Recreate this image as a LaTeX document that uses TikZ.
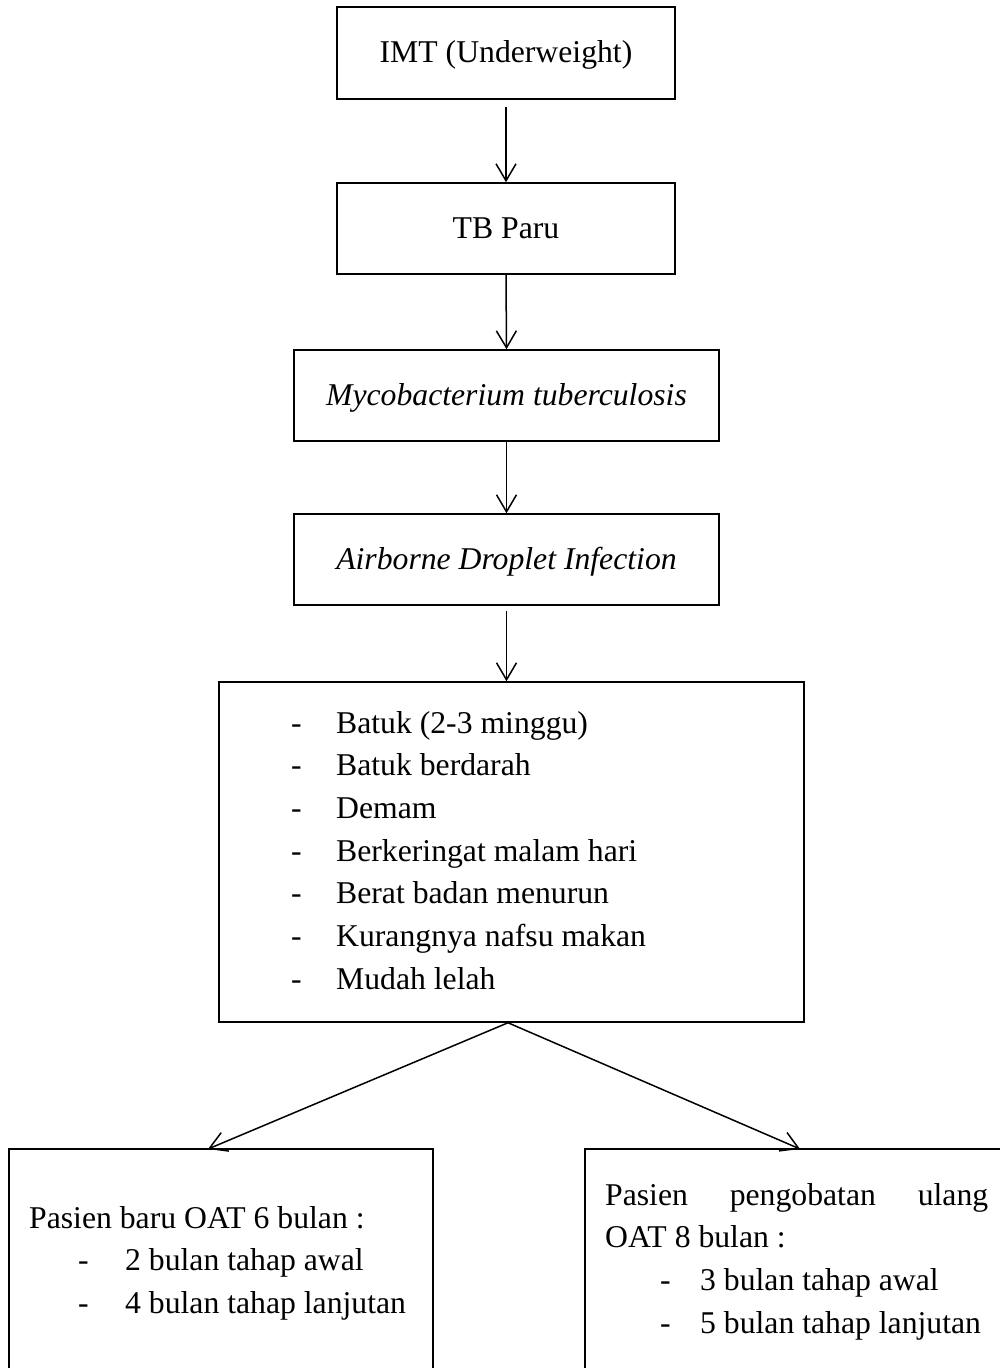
\documentclass[tikz,border=0pt]{standalone}
\usepackage{fontspec}
\setmainfont{Liberation Serif}
\usetikzlibrary{arrows.meta}
\begin{document}
\begin{tikzpicture}[x=1pt,y=-1pt,
  every node/.style={inner sep=0pt, font=\fontsize{31.7}{42.7}\selectfont},
  box/.style={draw, line width=1.5pt, text height=19pt, text depth=0pt},
  plainbox/.style={draw, line width=1.5pt},
  link/.style={line width=1.5pt, -{Straight Barb[length=17pt,width=20pt,line width=1.5pt]}}]
\useasboundingbox (0,0) rectangle (1000,1368);
\clip (0,0) rectangle (1000,1368);
\fill[white] (0,0) rectangle (1000,1368);
% boxes
\node[box, minimum width=338pt, minimum height=92pt] (b1) at (506,53) {IMT (Underweight)};
\node[box, minimum width=338pt, minimum height=91pt] (b2) at (506,228.5) {TB Paru};
\node[box, minimum width=425pt, minimum height=91pt] (b3) at (506.5,395.5) {\itshape Mycobacterium tuberculosis};
\node[box, minimum width=425pt, minimum height=91pt] (b4) at (506.5,559.5) {\itshape Airborne Droplet Infection};
\node[plainbox, minimum width=585pt, minimum height=340pt] (b5) at (511.5,852) {};
\node[anchor=base west] (l5) at (291,733) {\begin{tabular}[t]{@{}p{45pt}@{}l@{}}
- & Batuk (2-3 minggu)\\
- & Batuk berdarah\\
- & Demam\\
- & Berkeringat malam hari\\
- & Berat badan menurun\\
- & Kurangnya nafsu makan\\
- & Mudah lelah
\end{tabular}};
\node[plainbox, minimum width=424pt, minimum height=240pt] (b6) at (221,1269) {};
\node[plainbox, minimum width=430pt, minimum height=240pt] (b7) at (800,1269) {};
\node[anchor=base west] (l6) at (29,1228) {\begin{tabular}[t]{@{}p{49pt}@{}p{47pt}@{}l@{}}
\multicolumn{3}{@{}l@{}}{Pasien baru OAT 6 bulan :}\\
 & - & 2 bulan tahap awal\\
 & - & 4 bulan tahap lanjutan
\end{tabular}};
\node[anchor=base west] (l7) at (605,1205) {\begin{tabular}[t]{@{}p{55pt}@{}p{40pt}@{}l@{}}
\multicolumn{3}{@{}l@{}}{\makebox[383pt][s]{Pasien\hfill pengobatan\hfill ulang}}\\
\multicolumn{3}{@{}l@{}}{OAT 8 bulan :}\\
 & - & 3 bulan tahap awal\\
 & - & 5 bulan tahap lanjutan
\end{tabular}};
% connectors
\coordinate (apex) at ([xshift=-3.5pt]b5.south);
\coordinate (tipL) at (208,1149);
\coordinate (tipR) at (800,1149);
\draw[link, shorten <=7pt] (b1.south) -- (b2.north);
\draw[link] (b2.south) -- (b3.north);
\draw[link] (b3.south) -- (b4.north);
\draw[link, shorten <=5pt] (b4.south) -- (b4.south |- b5.north);
\draw[link] (apex) -- (tipL);
\draw[link] (apex) -- (tipR);
\end{tikzpicture}
\end{document}
